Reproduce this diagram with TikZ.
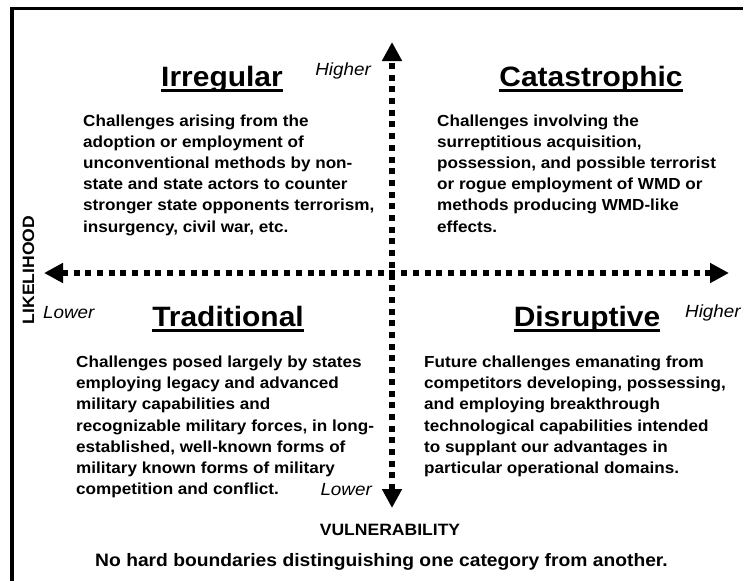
\documentclass[tikz,border=0pt]{standalone}
\usepackage{fontspec}
\setmainfont[FakeStretch=1.07]{Liberation Sans}
\usetikzlibrary{arrows.meta}
\begin{document}
\begin{tikzpicture}[x=1pt,y=-1pt,
  body/.style={font=\fontsize{16}{19}\selectfont\bfseries, inner sep=0pt, anchor=base west},
  title/.style={font=\fontsize{28}{32}\selectfont\bfseries, inner sep=0pt, anchor=base},
  lab/.style={font=\fontsize{17.6}{20}\selectfont\itshape, inner sep=0pt},
  caps/.style={font=\fontsize{16.4}{19}\selectfont\bfseries, inner sep=0pt},
  axis/.style={line width=6pt, dash pattern=on 6pt off 5.7pt,
    {Triangle[width=19pt,length=19pt]}-{Triangle[width=19pt,length=19pt]}},
  uline/.style={line width=2.2pt},
  frame/.style={line width=3.5pt}]
\useasboundingbox (0,0) rectangle (743,581);
% frame (top and left)
\coordinate (fbl) at (12,581);
\coordinate (ftl) at (12,8.7);
\coordinate (ftr) at (743,8.7);
\draw[frame] (fbl) -- (ftl) -- (ftr);
% axes
\coordinate (vtop) at (392,42);
\coordinate (vbot) at (392,508);
\coordinate (hl) at (44,273);
\coordinate (hr) at (729,273);
\draw[axis] (vbot) -- (vtop);
\draw[axis] (hl) -- (hr);
% titles
\node[title] (irr) at (222,86) {Irregular};
\node[title] (cat) at (591,86) {Catastrophic};
\node[title] (tra) at (228,326) {Traditional};
\node[title] (dis) at (587,326) {Disruptive};
\foreach \n in {irr,cat,tra,dis}
  \draw[uline] ([yshift=-4.5pt]\n.base west) -- ([yshift=-4.5pt]\n.base east);
% body texts
\foreach \t [count=\i from 0] in {{Challenges arising from the},{adoption or employment of},{unconventional methods by non-},{state and state actors to counter},{stronger state opponents terrorism,},{insurgency, civil war, etc.}}
  \node[body] (irrT\i) at (83,{126+21.2*\i}) {\t};
\foreach \t [count=\i from 0] in {{Challenges involving the},{surreptitious acquisition,},{possession, and possible terrorist},{or rogue employment of WMD or},{methods producing WMD-like},{effects.}}
  \node[body] (catT\i) at (437,{126+21.2*\i}) {\t};
\foreach \t [count=\i from 0] in {{Challenges posed largely by states},{employing legacy and advanced},{military capabilities and},{recognizable military forces, in long-},{established, well-known forms of},{military known forms of military},{competition and conflict.}}
  \node[body] (traT\i) at (76,{367.7+21.1*\i}) {\t};
\foreach \t [count=\i from 0] in {{Future challenges emanating from},{competitors developing, possessing,},{and employing breakthrough},{technological capabilities intended},{to supplant our advantages in},{particular operational domains.}}
  \node[body] (disT\i) at (424,{367.7+21.1*\i}) {\t};
% axis labels
\node[lab, anchor=base east] (hiV) at (371,75) {Higher};
\node[lab, anchor=base east] (loV) at (372,495) {Lower};
\node[lab, anchor=base west] (loH) at (43,318) {Lower};
\node[lab, anchor=base west] (hiH) at (685,317) {Higher};
\node[caps, anchor=base, rotate=90] (lik) at (34,270) {LIKELIHOOD};
\node[caps, anchor=base] (vul) at (390,535) {VULNERABILITY};
\node[font=\fontsize{18}{21}\selectfont\bfseries, inner sep=0pt, anchor=base] (foot) at (381.5,566) {No hard boundaries distinguishing one category from another.};
\end{tikzpicture}
\end{document}
